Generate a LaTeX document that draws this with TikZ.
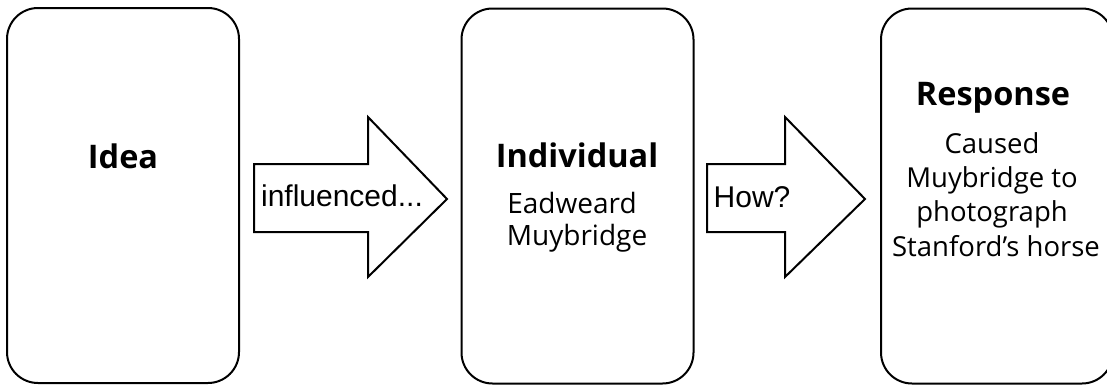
\documentclass[tikz,border=0pt]{standalone}
\usepackage{fontspec}
\setmainfont{Open Sans}
\newfontfamily\lib{Liberation Sans}
\begin{document}
\begin{tikzpicture}[x=1pt,y=-1pt,
  box/.style={draw=black,line width=2pt,rounded corners=31pt,fill=white,minimum width=232pt,minimum height=375pt,inner sep=0pt},
  blockarrow/.style={draw=black,line width=2pt,fill=white,line join=miter},
  head/.style={font=\fontsize{32.5}{38}\selectfont\bfseries,anchor=base,inner sep=0pt},
  txtm/.style={font=\fontsize{28}{32}\selectfont,anchor=base,inner sep=0pt},
  txtr/.style={font=\fontsize{27.5}{32}\selectfont,anchor=base,inner sep=0pt},
  arrtxt/.style={font=\lib\fontsize{30}{34}\selectfont,anchor=base,inner sep=0pt}]
\useasboundingbox (0,0) rectangle (1107,386);
\clip (0,0) rectangle (1107,386);
\node[box] (idea) at (123,195.5) {};
\node[box] (indiv) at (577.5,196) {};
\node[box] (resp) at (997,196) {};
% arrows
\draw[blockarrow] (254,164) -- (368,164) -- (368,117) -- (447,199) -- (368,277) -- (368,232) -- (254,232) -- cycle;
\draw[blockarrow] (707,164) -- (785,164) -- (785,117) -- (865,199) -- (785,277) -- (785,232) -- (707,232) -- cycle;
% texts
\node[head] (tidea) at (123,168) {Idea};
\node[head] (tindiv) at (577,167) {Individual};
\node[txtm] (tead) at (572,213) {Eadweard};
\node[txtm] (tmuy) at (577,245) {Muybridge};
\node[head] (tresp) at (993,105) {Response};
\node[txtr] (tc1) at (992,153) {Caused};
\node[txtr] (tc2) at (992,187) {Muybridge to};
\node[txtr] (tc3) at (992,221) {photograph};
\node[txtr] (tc4) at (996,256) {Stanford’s horse};
\node[arrtxt] (tinf) at (342,206) {influenced...};
\node[arrtxt] (thow) at (752,207) {How?};
\end{tikzpicture}
\end{document}
